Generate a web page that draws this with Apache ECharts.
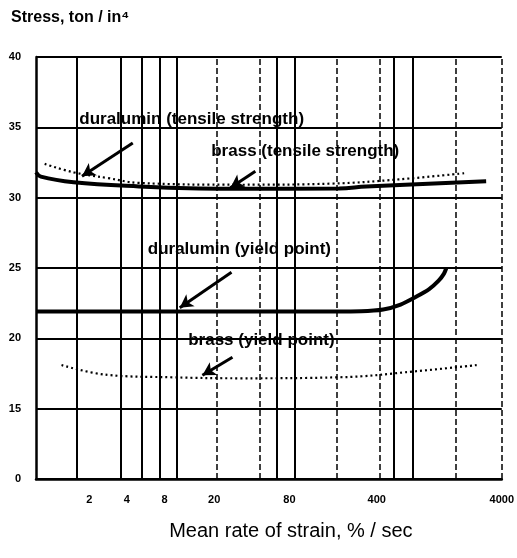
<!DOCTYPE html>
<html><head><meta charset="utf-8">
<script src="https://cdn.jsdelivr.net/npm/echarts@6/dist/echarts.min.js"></script>
<style>html,body{margin:0;padding:0;background:#fff}#c{width:517px;height:558px}</style>
</head><body><div id="c"></div>
<script>
// Y axis: broken scale in the original (0 drawn one step below 15)
const yTickValues = [10, 15, 20, 25, 30, 35, 40];
const yTickLabels = ['0', '15', '20', '25', '30', '35', '40'];
// X axis: mean rate of strain (% / sec), log scale
const xTickValues = [2, 4, 8, 20, 80, 400, 4000];
const xTickLabels = ['2', '4', '8', '20', '80', '400', '4000'];
// vertical grid lines (rate values) and whether they are dashed
const gridRates  = [1.6, 3.6, 5.3, 7.3, 10, 21, 46, 63, 88, 190, 420, 550, 770, 1700, 4000];
const gridDashed = [false, false, false, false, false, true, true, false, false, true, true, false, false, true, true];

// duralumin (tensile strength) – solid
const durTensileRate   = [0.75, 0.82, 1.5, 5, 15, 32, 200, 330, 3000];
const durTensileStress = [31.8, 31.5, 31.1, 30.8, 30.66, 30.64, 30.66, 30.8, 31.16];
// brass (tensile strength) – dotted
const brassTensileRate   = [0.88, 1.5, 2.8, 5, 32, 176, 600, 2070];
const brassTensileStress = [32.4, 31.8, 31.4, 31.05, 30.92, 31.0, 31.3, 31.75];
// duralumin (yield point) – solid
const durYieldRate   = [0.75, 10, 100, 300, 450, 620, 824, 1050, 1250, 1380, 1440];
const durYieldStress = [21.9, 21.9, 21.9, 21.93, 22.05, 22.4, 22.95, 23.5, 24.1, 24.6, 25.0];
// brass (yield point) – dotted
const brassYieldRate   = [1.2, 2.8, 9.3, 32, 200, 824, 2520];
const brassYieldStress = [18.1, 17.4, 17.23, 17.16, 17.23, 17.66, 18.1];

// annotation labels [rate, stress]
const labelTexts = ['duralumin (tensile strength)', 'brass (tensile strength)', 'duralumin (yield point)', 'brass (yield point)'];
const labelRate   = [13.2, 107, 31.8, 47.7];
const labelStress = [35.55, 33.32, 26.35, 19.89];
// arrows: from [rate, stress] to [rate, stress]
const arrowFromRate   = [4.46, 42.7, 27.5, 28];
const arrowFromStress = [33.89, 31.88, 24.70, 18.66];
const arrowToRate     = [1.75, 27, 10.6, 16.1];
const arrowToStress   = [31.52, 30.7, 22.18, 17.37];

const zip = (a, b) => a.map((v, i) => [v, b[i]]);
const FONT = 'Liberation Sans, Arial, sans-serif';

const chart = echarts.init(document.getElementById('c'), null, { renderer: 'canvas' });

const gridLines = gridRates.map((r, i) => ({
  xAxis: r,
  lineStyle: { color: '#000', width: gridDashed[i] ? 1.5 : 2, type: gridDashed[i] ? [6, 3] : 'solid' }
}));
const arrows = arrowFromRate.map((r, i) => ([
  { coord: [r, arrowFromStress[i]] },
  { coord: [arrowToRate[i], arrowToStress[i]] }
]));
const labels = labelTexts.map((t, i) => ({
  coord: [labelRate[i], labelStress[i]],
  label: { formatter: t }
}));

chart.setOption({
  animation: false,
  backgroundColor: '#fff',
  title: {
    text: 'Stress, ton / in⁴',
    left: 6, top: 5,
    textStyle: { fontFamily: FONT, fontSize: 16, fontWeight: 'bold', color: '#000' }
  },
  grid: { left: 36, right: 15, top: 57, bottom: 79 },
  xAxis: {
    type: 'log', logBase: 10, min: 0.75, max: 4000,
    name: 'Mean rate of strain, % / sec',
    nameLocation: 'middle', nameGap: 42,
    nameTextStyle: { fontFamily: FONT, fontSize: 20, color: '#000', padding: [0, 0, 0, 44] },
    axisLine: { show: true, lineStyle: { color: '#000', width: 2.5 } },
    axisTick: { show: false },
    splitLine: { show: false },
    minorTick: { show: false },
    axisLabel: {
      customValues: xTickValues,
      formatter: v => { const i = xTickValues.findIndex(t => Math.abs(t - v) / t < 1e-6); return i >= 0 ? xTickLabels[i] : ''; },
      margin: 15, fontFamily: FONT, fontSize: 11, fontWeight: 'bold', color: '#000'
    }
  },
  yAxis: {
    type: 'value', min: 10, max: 40, interval: 5,
    axisLine: { show: true, lineStyle: { color: '#000', width: 2.5 } },
    axisTick: { show: false },
    splitLine: { show: true, lineStyle: { color: '#000', width: 2 } },
    axisLabel: {
      formatter: v => { const i = yTickValues.indexOf(v); return i >= 0 ? yTickLabels[i] : ''; },
      margin: 15, fontFamily: FONT, fontSize: 11, fontWeight: 'bold', color: '#000'
    }
  },
  series: [
    {
      name: 'grid', type: 'line', data: [], silent: true,
      markLine: { silent: true, symbol: ['none', 'none'], label: { show: false }, data: gridLines, animation: false }
    },
    {
      name: 'duralumin (tensile strength)', type: 'line', data: zip(durTensileRate, durTensileStress),
      smooth: 0.4, showSymbol: false, lineStyle: { color: '#000', width: 4 }
    },
    {
      name: 'brass (tensile strength)', type: 'line', data: zip(brassTensileRate, brassTensileStress),
      smooth: 0.4, showSymbol: false, lineStyle: { color: '#000', width: 2.2, type: [2, 3] }
    },
    {
      name: 'duralumin (yield point)', type: 'line', data: zip(durYieldRate, durYieldStress),
      smooth: 0.3, showSymbol: false, lineStyle: { color: '#000', width: 4 }
    },
    {
      name: 'brass (yield point)', type: 'line', data: zip(brassYieldRate, brassYieldStress),
      smooth: 0.4, showSymbol: false, lineStyle: { color: '#000', width: 2.2, type: [2, 3] },
      markLine: {
        silent: true, symbol: ['none', 'arrow'], symbolSize: [11, 13],
        label: { show: false },
        lineStyle: { color: '#000', width: 3, type: 'solid' },
        data: arrows
      },
      markPoint: {
        silent: true, symbol: 'circle', symbolSize: 1,
        itemStyle: { color: 'rgba(0,0,0,0)' },
        label: { show: true, position: 'inside', color: '#000', fontFamily: FONT, fontSize: 17, fontWeight: 'bold' },
        data: labels
      }
    }
  ]
});
</script>
</body></html>
